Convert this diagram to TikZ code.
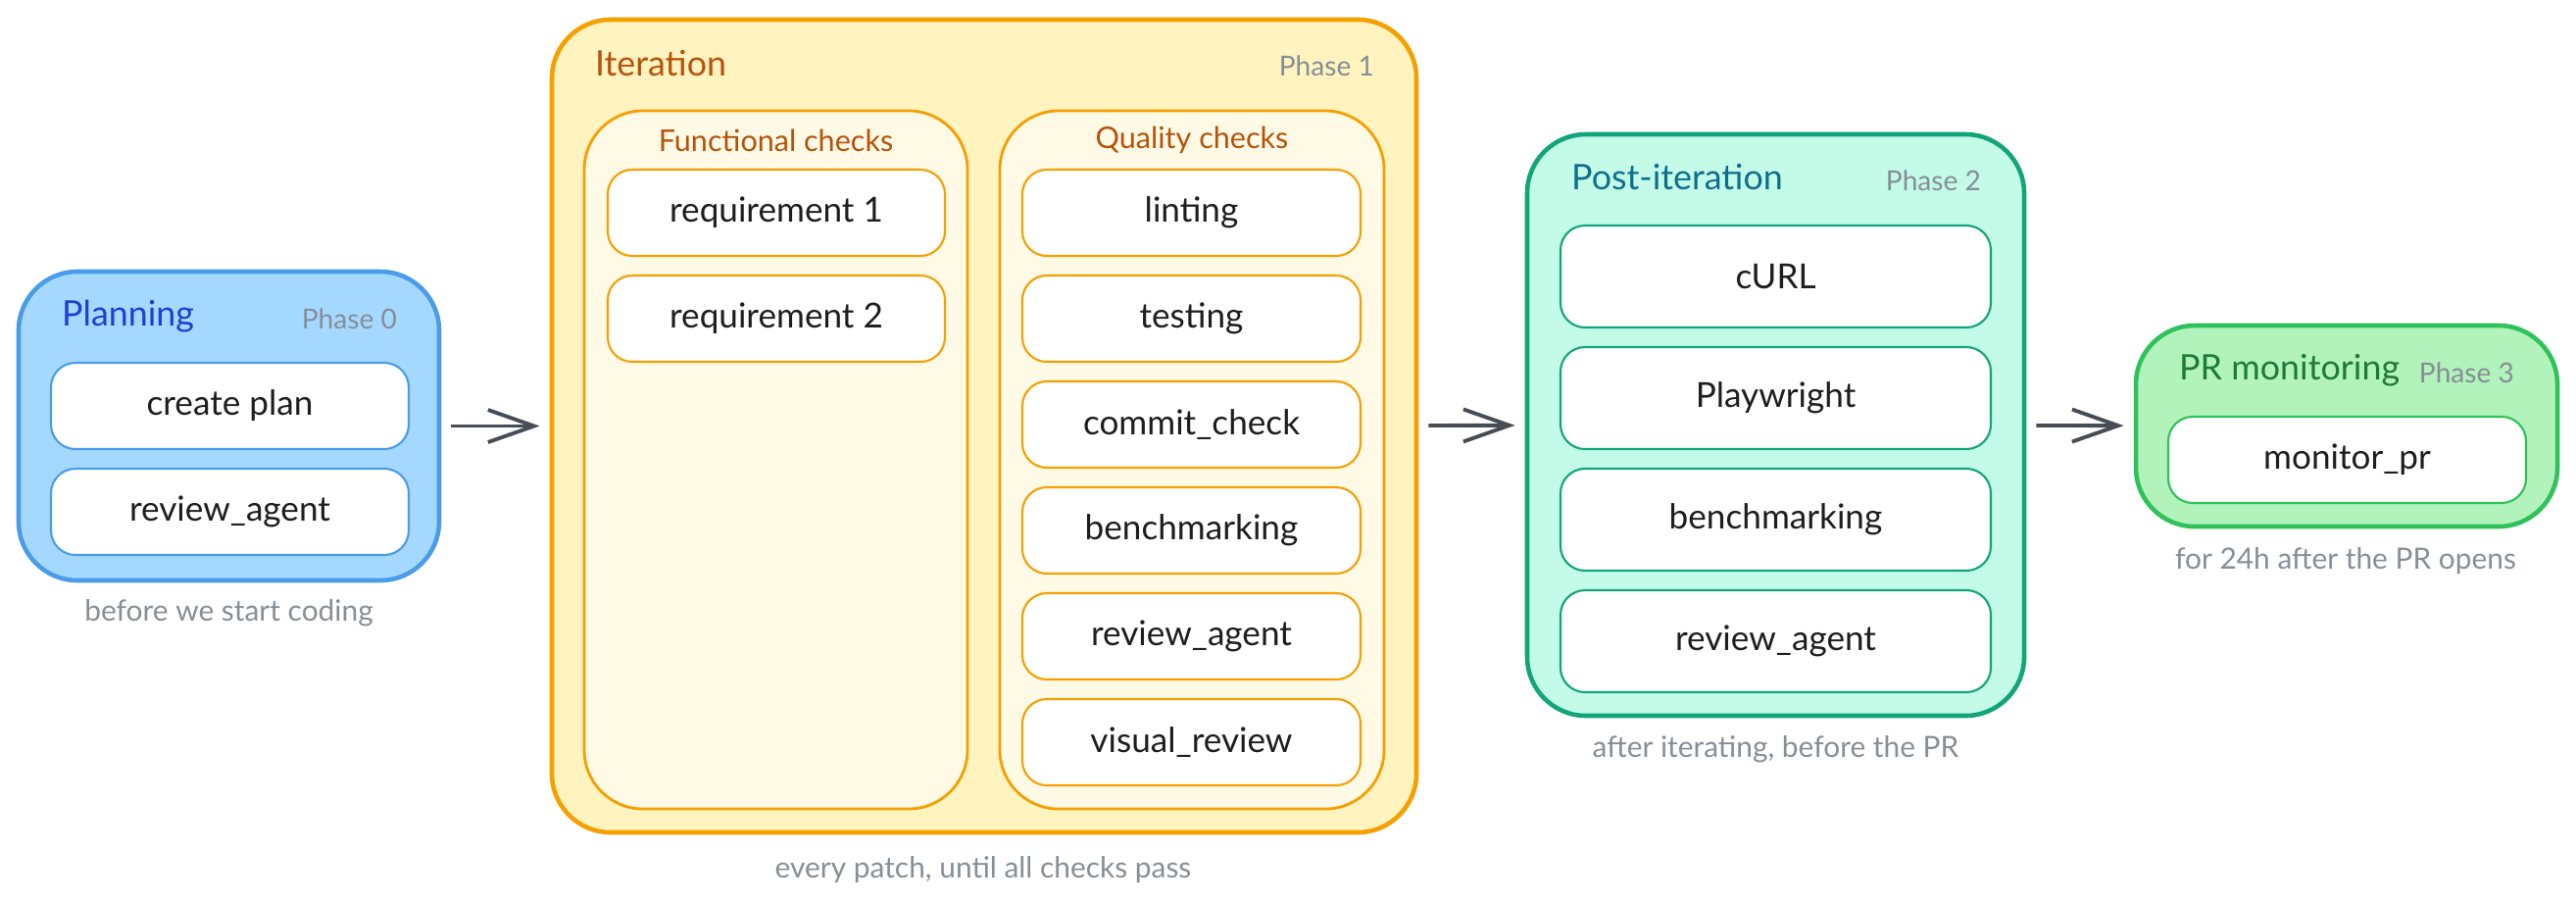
\documentclass[tikz,border=0pt]{standalone}
\usepackage{fontspec}
\setmainfont{Lato}
\usepackage{xcolor}
\usetikzlibrary{arrows.meta}

\definecolor{planfill}{HTML}{A5D8FF}
\definecolor{planline}{HTML}{4A9CE8}
\definecolor{plantext}{HTML}{1F3FD0}
\definecolor{iterfill}{HTML}{FFF3BF}
\definecolor{iterline}{HTML}{F59F00}
\definecolor{panelfill}{HTML}{FFFAE6}
\definecolor{itertext}{HTML}{B5530C}
\definecolor{postfill}{HTML}{C3FAE8}
\definecolor{postline}{HTML}{12A57A}
\definecolor{posttext}{HTML}{106E8C}
\definecolor{prfill}{HTML}{B2F2BB}
\definecolor{prline}{HTML}{2FC25A}
\definecolor{prtext}{HTML}{1E7A3A}
\definecolor{phasegray}{HTML}{868E96}
\definecolor{arrowgray}{HTML}{474D55}
\definecolor{ink}{HTML}{1E1E1E}

\begin{document}
\begin{tikzpicture}[
            phasebox/.style={rectangle, draw, line width=1.3pt, rounded corners=0.6cm, inner sep=0pt},
            panel/.style={rectangle, draw=iterline, fill=panelfill, line width=0.8pt, rounded corners=0.6cm, inner sep=0pt},
            stepbox/.style={rectangle, draw, fill=white, line width=0.6pt, rounded corners=0.25cm, text=ink, font=\fontsize{10}{12}\selectfont},
            title/.style={anchor=west, font=\fontsize{10.2}{12}\selectfont},
            paneltitle/.style={text=itertext, font=\fontsize{8.7}{10}\selectfont},
            phase/.style={anchor=east, text=phasegray, font=\fontsize{8}{9}\selectfont},
            note/.style={text=phasegray, font=\fontsize{8.5}{10}\selectfont},
            flow/.style={-{Straight Barb[length=0.47cm, width=0.33cm]}, line width=1.1pt, draw=arrowgray, shorten <=0.1cm, shorten >=0.1cm}
        ]
            \useasboundingbox (0,0) rectangle (26.28,-9.2);

            % Phases
            \node[phasebox, fill=planfill, draw=planline, minimum width=4.29cm, minimum height=3.15cm] (plan) at (2.335,-4.345) {};
            \node[phasebox, fill=iterfill, draw=iterline, minimum width=8.82cm, minimum height=8.29cm] (iter) at (10.04,-4.345) {};
            \node[phasebox, fill=postfill, draw=postline, minimum width=5.07cm, minimum height=5.93cm] (post) at (18.115,-4.335) {};
            \node[phasebox, fill=prfill, draw=prline, minimum width=4.30cm, minimum height=2.05cm] (prmon) at (23.94,-4.345) {};

            % Titles
            \node[title, text=plantext] (plantitle) at ([xshift=0.34cm, yshift=-0.48cm]plan.north west) {Planning};
            \node[title, text=itertext] (itertitle) at ([xshift=0.34cm, yshift=-0.47cm]iter.north west) {Iteration};
            \node[title, text=posttext] (posttitle) at ([xshift=0.35cm, yshift=-0.46cm]post.north west) {Post-iteration};
            \node[title, text=prtext] (prtitle) at ([xshift=0.34cm, yshift=-0.48cm]prmon.north west) {PR monitoring};
            \node[phase] (planphase) at ([xshift=-0.33cm, yshift=-0.51cm]plan.north east) {Phase 0};
            \node[phase] (iterphase) at ([xshift=-0.33cm, yshift=-0.50cm]iter.north east) {Phase 1};
            \node[phase] (postphase) at ([xshift=-0.34cm, yshift=-0.50cm]post.north east) {Phase 2};
            \node[phase] (prphase) at ([xshift=-0.34cm, yshift=-0.51cm]prmon.north east) {Phase 3};

            % Check panels
            \node[panel, minimum width=3.91cm, minimum height=7.12cm] (func) at (7.915,-4.69) {};
            \node[panel, minimum width=3.92cm, minimum height=7.12cm] (qual) at (12.16,-4.69) {};
            \node[paneltitle] (functitle) at (7.915,-1.43) {Functional checks};
            \node[paneltitle] (qualtitle) at (12.16,-1.43) {Quality checks};

            % Steps
            \foreach \y/\t [count=\i] in {-4.14/create plan, -5.22/review\_agent}
                \node[stepbox, draw=planline, minimum width=3.65cm, minimum height=0.88cm] (plan\i) at (2.345,\y) {\t};
            \foreach \y/\t [count=\i] in {-2.17/requirement 1, -3.25/requirement 2}
                \node[stepbox, draw=iterline, minimum width=3.44cm, minimum height=0.88cm] (func\i) at (7.92,\y) {\t};
            \foreach \y/\t [count=\i] in {-2.17/linting, -3.25/testing, -4.33/commit\_check, -5.41/benchmarking, -6.49/review\_agent, -7.57/visual\_review}
                \node[stepbox, draw=iterline, minimum width=3.45cm, minimum height=0.88cm] (qual\i) at (12.155,\y) {\t};
            \foreach \y/\t [count=\i] in {-2.82/cURL, -4.06/Playwright, -5.30/benchmarking, -6.54/review\_agent}
                \node[stepbox, draw=postline, minimum width=4.39cm, minimum height=1.04cm] (post\i) at (18.115,\y) {\t};
            \node[stepbox, draw=prline, minimum width=3.65cm, minimum height=0.88cm] (pr1) at (23.945,-4.69) {monitor\_pr};

            % Notes
            \node[note] (plannote) at (2.335,-6.25) {before we start coding};
            \node[note] (iternote) at (10.03,-8.87) {every patch, until all checks pass};
            \node[note] (postnote) at (18.115,-7.64) {after iterating, before the PR};
            \node[note] (prnote) at (23.93,-5.72) {for 24h after the PR opens};

            % Flow
            \draw[flow] (plan) -- (iter);
            \draw[flow] (iter) -- (post);
            \draw[flow] (post) -- (prmon);
        \end{tikzpicture}
\end{document}
